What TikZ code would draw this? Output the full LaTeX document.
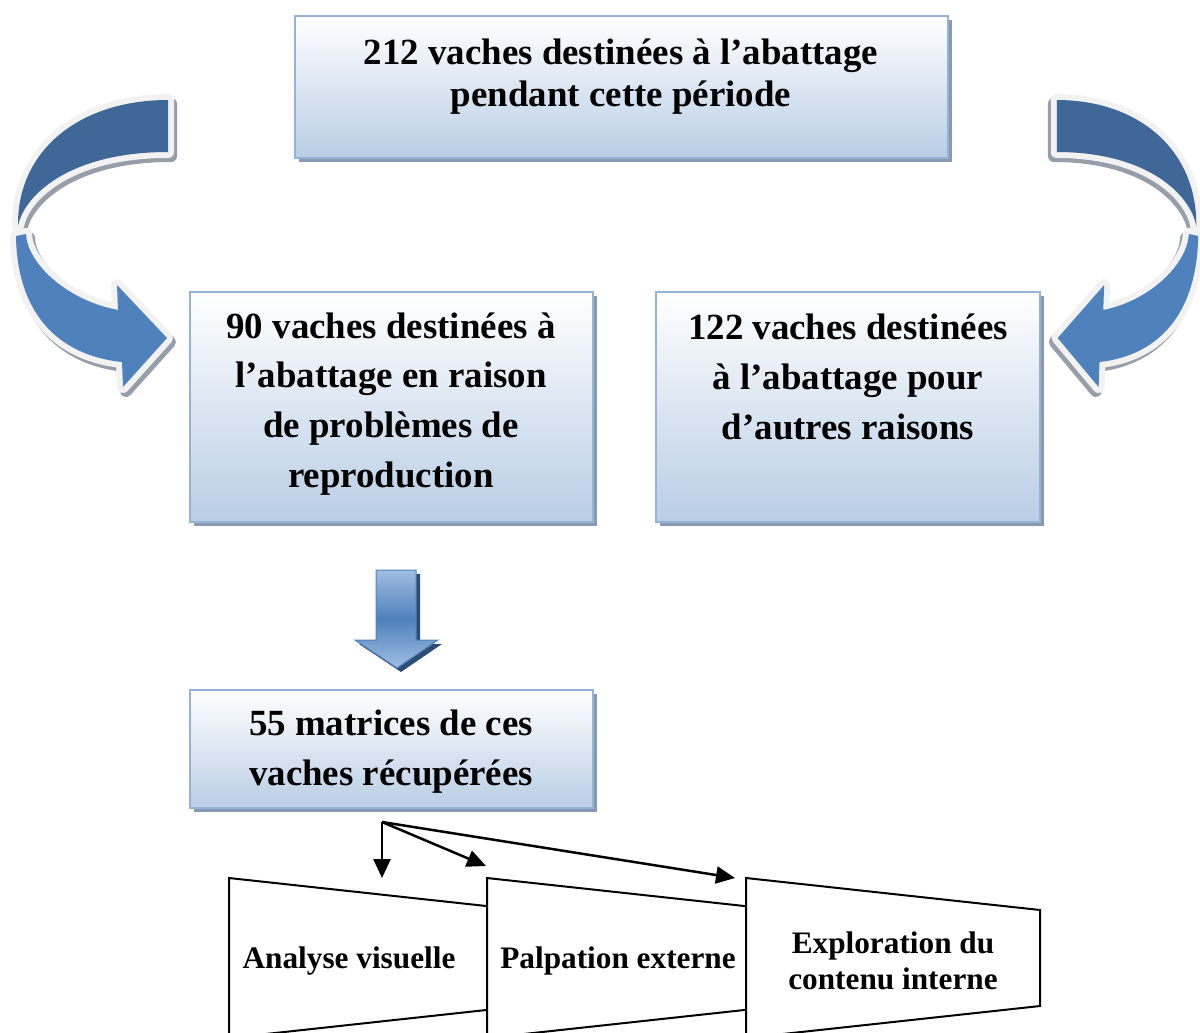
\documentclass[tikz,border=0pt]{standalone}
\usepackage{fontspec}
\setmainfont{Liberation Serif}
\usepackage{xcolor}
\definecolor{BoxBot}{RGB}{185,205,229}
\definecolor{BoxLine}{RGB}{149,179,215}
\definecolor{BoxShd}{RGB}{138,153,178}
\definecolor{ArrDark}{RGB}{63,103,151}
\definecolor{ArrLight}{RGB}{79,129,189}
\definecolor{Ring}{RGB}{242,242,242}
\definecolor{ArrShd}{RGB}{150,158,170}
\definecolor{DownTop}{RGB}{160,189,226}
\definecolor{DownShd}{RGB}{44,77,117}
\usepackage{tikz}
\usetikzlibrary{arrows.meta}
\usetikzlibrary{shadows}
\tikzstyle{Box}=[rectangle,draw=BoxLine,line width=0.04cm,inner sep=0pt,
top color=white,bottom color=BoxBot,
drop shadow={shadow xshift=0.08cm,shadow yshift=-0.08cm,fill=BoxShd,opacity=1}]
\tikzstyle{BoxText}=[align=center,inner sep=0pt,
font=\bfseries\fontsize{21}{28.35}\selectfont]
\tikzstyle{TopText}=[BoxText,font=\bfseries\fontsize{21}{23.8}\selectfont]
\tikzstyle{TrapText}=[align=center,inner sep=0pt,
font=\bfseries\fontsize{17.8}{20.4}\selectfont]
\tikzstyle{Trap}=[draw=black,fill=white,line width=0.04cm,line join=miter]
\tikzstyle{Conn}=[draw=black,line width=0.05cm,
-{Triangle[length=0.38cm,width=0.34cm]}]
\tikzstyle{BackBand}=[fill=ArrDark,preaction={draw=Ring,line width=0.24cm,line join=round}]
\tikzstyle{FrontBand}=[fill=ArrLight,preaction={draw=Ring,line width=0.24cm,line join=round}]
\tikzstyle{BandShd}=[fill=ArrShd,draw=ArrShd,line width=0.24cm,line join=round]
\tikzstyle{DownArrow}=[draw=ArrLight,line width=0.02cm,
top color=DownTop,bottom color=DownTop,middle color=ArrLight]
\newcommand{\LeftBack}{(168,100) .. controls (80,100) and (17,150) .. (18,226)
  .. controls (24,195) and (70,152) .. (168,152) -- cycle}
\newcommand{\LeftFront}{(16,236) .. controls (17,310) and (55,355) .. (122,362)
  -- (123,387) -- (167,338) -- (117,285) -- (118,310)
  .. controls (65,300) and (27,262) .. (26,234) -- cycle}
\newcommand{\DownArr}{(376,570) -- (416,570) -- (416,640) -- (438,640)
  -- (397,668) -- (355,640) -- (376,640) -- cycle}

\begin{document}
\begin{tikzpicture}[x=0.02cm,y=-0.02cm]
    \useasboundingbox (0,0) rectangle (1200,1032);
    \clip (0,0) rectangle (1200,1032);
    % curved arrows
    \begin{scope}
        \path[BandShd,shift={(3,4)}] \LeftBack;
        \path[BackBand] \LeftBack;
        \path[BandShd,shift={(3,4)}] \LeftFront;
        \path[FrontBand] \LeftFront;
    \end{scope}
    \begin{scope}[shift={(1213,0)},xscale=-0.93]
        \path[BandShd,shift={(3,4)}] \LeftBack;
        \path[BackBand] \LeftBack;
        \path[BandShd,shift={(3,4)}] \LeftFront;
        \path[FrontBand] \LeftFront;
    \end{scope}
    % boxes
    \node[Box,minimum width=13.06cm,minimum height=2.84cm](b212)at(621.5,87){};
    \node[TopText](t212)at(621,77){212 vaches destinées à l’abattage\\pendant cette période};
    \node[Box,minimum width=8.06cm,minimum height=4.6cm](b90)at(391.5,407){};
    \node[BoxText](t90)at(391,404){90 vaches destinées à\\l’abattage en raison\\de problèmes de\\reproduction};
    \node[Box,minimum width=7.68cm,minimum height=4.6cm](b122)at(848,407){};
    \node[BoxText](t122)at(848,377){122 vaches destinées\\à l’abattage pour\\d’autres raisons};
    \fill[DownShd,shift={(4,4)}] \DownArr;
    \path[DownArrow] \DownArr;
    \node[Box,minimum width=8.06cm,minimum height=2.36cm](b55)at(391.5,749){};
    \node[BoxText](t55)at(391,752){55 matrices de ces\\vaches récupérées};
    % examens
    \draw[Trap](229,878)--(523,910)--(523,1006)--(229,1038)--cycle;
    \draw[Trap](487,878)--(781,910)--(781,1006)--(487,1038)--cycle;
    \draw[Trap](746,878)--(1040,910)--(1040,1006)--(746,1038)--cycle;
    \node[TrapText](e1)at(349,961){Analyse visuelle};
    \node[TrapText](e2)at(618,961){Palpation externe};
    \node[TrapText](e3)at(893,961){Exploration du\\contenu interne};
    \coordinate(split)at(382,822);
    \coordinate(in1)at(382,878);
    \coordinate(in2)at(486,866);
    \coordinate(in3)at(735,878);
    \draw[Conn](split)--(in1);
    \draw[Conn](split)--(in2);
    \draw[Conn](split)--(in3);
\end{tikzpicture}
\end{document}
